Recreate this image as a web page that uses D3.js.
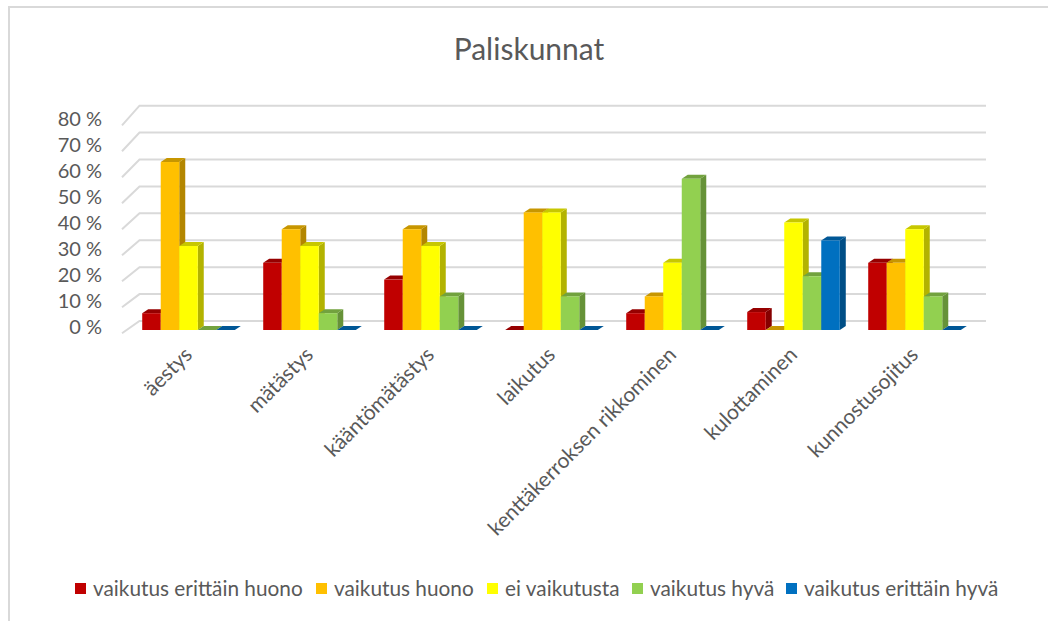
<!DOCTYPE html>
<html>
<head>
    <meta charset="utf-8">
    <title>Paliskunnat</title>
    <style>
    body { margin: 0; background: #fff; }
    text { font-family: Lato, "Open Sans", sans-serif; fill: #595959; }
    .grid { stroke: #d9d9d9; stroke-width: 2; fill: none; }
    </style>
</head>
<body>
    <svg width="1048" height="621"></svg>
    <script src="https://d3js.org/d3.v7.min.js"></script>
    <script>
        // data (share of answers)
        var categories = ["äestys", "mätästys", "kääntömätästys", "laikutus",
                          "kenttäkerroksen rikkominen", "kulottaminen", "kunnostusojitus"];
        var seriesNames = ["vaikutus erittäin huono", "vaikutus huono", "ei vaikutusta",
                           "vaikutus hyvä", "vaikutus erittäin hyvä"];
        var seriesColors = ["#C00000", "#FFC000", "#FFFF00", "#92D050", "#0070C0"];
        var erittainHuono = [0.0625, 0.25, 0.1875, 0, 0.0625, 0.0667, 0.25];
        var huono         = [0.625, 0.375, 0.375, 0.4375, 0.125, 0, 0.25];
        var eiVaikutusta  = [0.3125, 0.3125, 0.3125, 0.4375, 0.25, 0.40, 0.375];
        var hyva          = [0, 0.0625, 0.125, 0.125, 0.5625, 0.20, 0.125];
        var erittainHyva  = [0, 0, 0, 0, 0, 0.3333, 0];
        var yTicks = [0, 0.1, 0.2, 0.3, 0.4, 0.5, 0.6, 0.7, 0.8];

        var series = [erittainHuono, huono, eiVaikutusta, hyva, erittainHyva];

        var svg = d3.select("svg");

        // chart frame
        svg.append("rect")
            .attr("x", 9).attr("y", 7)
            .attr("width", 1100).attr("height", 700)
            .attr("fill", "none").attr("stroke", "#d9d9d9").attr("stroke-width", 2);

        svg.append("text")
            .attr("x", 529).attr("y", 60)
            .attr("text-anchor", "middle")
            .style("font-size", "30px")
            .text("Paliskunnat");

        // scales: front of bars, back wall and left wall (perspective)
        var yFront = d3.scaleLinear().domain([0, 0.8]).range([330, 115]);
        var yBack = d3.scaleLinear().domain([0, 0.8]).range([321, 105.7]);
        var yLeft = d3.scaleLinear().domain([0, 0.8]).range([333.3, 125.3]);
        var wallLeft = 139.5, wallRight = 986, sideLeft = 122;

        var x0 = d3.scaleBand().domain(categories).range([128, 975])
            .paddingInner(0.235).paddingOuter(0.1175);
        var x1 = d3.scaleBand().domain(d3.range(series.length)).range([0, x0.bandwidth()]);

        // gridlines
        var grid = svg.append("g");
        yTicks.forEach(function(t) {
            grid.append("path").attr("class", "grid")
                .attr("d", "M" + sideLeft + "," + yLeft(t) + "L" + wallLeft + "," + yBack(t) +
                           "L" + wallRight + "," + yBack(t));
        });

        // y labels
        svg.append("g").selectAll("text")
            .data(yTicks).enter().append("text")
            .attr("x", 102)
            .attr("y", d => yLeft(d) - 6)
            .attr("dy", "0.35em")
            .attr("text-anchor", "end")
            .style("font-size", "20px")
            .text(d => Math.round(d * 100) + " %");

        // 3d columns
        var dx = 6, dy = -4;
        var bars = svg.append("g");
        categories.forEach(function(c, ci) {
            series.forEach(function(s, si) {
                var v = s[ci];
                var xl = x0(c) + x1(si), xr = xl + x1.bandwidth();
                var yt = yFront(v), yb = yFront(0);
                var col = d3.color(seriesColors[si]);
                var g = bars.append("g");
                // side
                g.append("path")
                    .attr("d", "M" + xr + "," + yb + "L" + (xr + dx) + "," + (yb + dy) +
                               "L" + (xr + dx) + "," + (yt + dy) + "L" + xr + "," + yt + "Z")
                    .attr("fill", col.darker(1.0));
                // top
                g.append("path")
                    .attr("d", "M" + xl + "," + yt + "L" + (xl + dx) + "," + (yt + dy) +
                               "L" + (xr + dx) + "," + (yt + dy) + "L" + xr + "," + yt + "Z")
                    .attr("fill", col.darker(0.7));
                // front
                g.append("rect")
                    .attr("x", xl).attr("y", yt)
                    .attr("width", x1.bandwidth()).attr("height", yb - yt)
                    .attr("fill", col);
            });
        });

        // x labels
        svg.append("g").selectAll("text")
            .data(categories).enter().append("text")
            .attr("text-anchor", "end")
            .attr("transform", d => "translate(" + (x0(d) + x0.bandwidth() / 2 + 5) + ",356) rotate(-45)")
            .style("font-size", "21px")
            .text(d => d);

        // legend
        var legendX = [75, 316, 487, 632, 786];
        var legend = svg.append("g");
        seriesNames.forEach(function(n, i) {
            legend.append("rect")
                .attr("x", legendX[i]).attr("y", 583)
                .attr("width", 11).attr("height", 11)
                .attr("fill", seriesColors[i]);
            legend.append("text")
                .attr("x", legendX[i] + 18).attr("y", 596)
                .style("font-size", "20.8px")
                .text(n);
        });
    </script>
</body>
</html>
